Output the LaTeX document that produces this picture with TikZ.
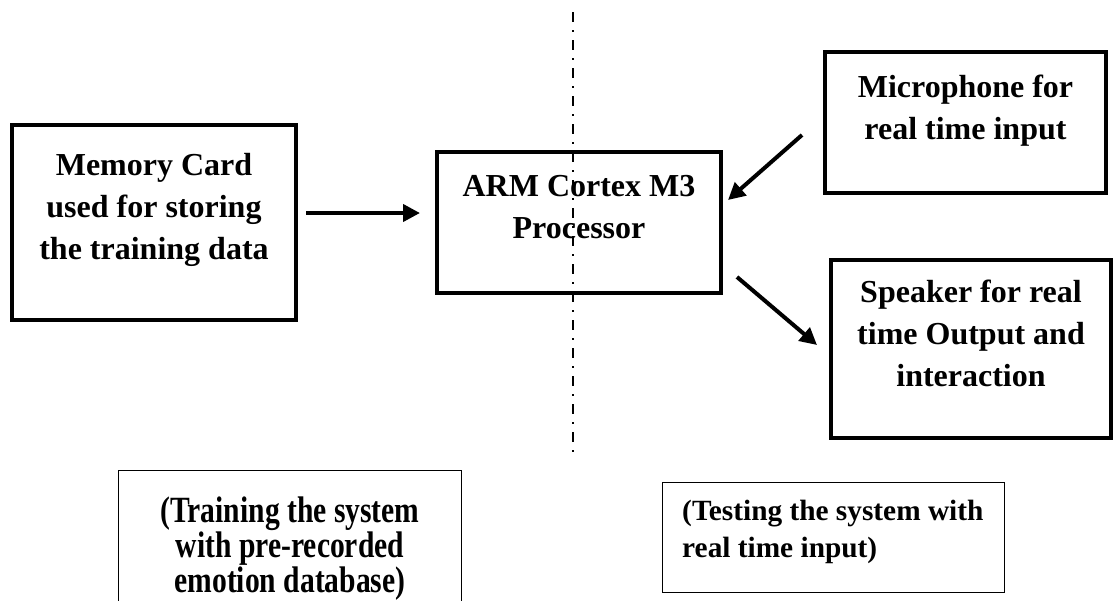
\documentclass[tikz,border=0pt]{standalone}
\usepackage{fontspec}
\setmainfont{Liberation Serif}
\newfontfamily\condfont[FakeStretch=0.8]{Liberation Serif}
\usetikzlibrary{arrows.meta,calc}

\begin{document}
\begin{tikzpicture}[x=0.75pt,y=-0.75pt,
  heavybox/.style={draw, line width=3pt, inner sep=0pt, outer sep=0pt, fill=white},
  thinbox/.style={draw, line width=0.8pt, inner sep=0pt, outer sep=0pt},
  bigtxt/.style={inner sep=0pt, align=center, font=\fontsize{24}{31.5}\selectfont\bfseries},
  condtxt/.style={inner sep=0pt, align=center, font=\condfont\fontsize{27.75}{26.25}\selectfont\bfseries},
  testtxt/.style={inner sep=0pt, align=left, font=\fontsize{22}{27.75}\selectfont\bfseries},
  flowarrow/.style={line width=3pt, -{Triangle[length=12.75pt,width=12.75pt]}},
  divider/.style={line width=1.5pt, dash pattern=on 7.5pt off 6pt on 1.5pt off 6pt}
]
\path[use as bounding box, clip] (0,0) rectangle (1114,600);

\node[heavybox, minimum width=213pt, minimum height=146.25pt,
  label={[bigtxt, anchor=north, yshift=-21pt]north:{Memory Card\\used for storing\\the training data}}]
  (mem) at (154,222.5) {};

\node[heavybox, minimum width=213pt, minimum height=105.75pt,
  label={[bigtxt, anchor=north, yshift=-17.5pt]north:{ARM Cortex M3\\Processor}}]
  (arm) at (579,222.5) {};

\node[heavybox, minimum width=210.75pt, minimum height=105.75pt,
  label={[bigtxt, anchor=north, yshift=-17.25pt]north:{Microphone for\\real time input}}]
  (mic) at (965.5,122.5) {};

\node[heavybox, minimum width=210pt, minimum height=133.5pt,
  label={[bigtxt, anchor=north, yshift=-15pt]north:{Speaker for real\\time Output and\\interaction}}]
  (spk) at (971,349) {};

\node[thinbox, minimum width=257.25pt, minimum height=134.25pt,
  label={[condtxt, anchor=north, yshift=-19.9pt]north:{(Training the system\\with pre-recorded\\emotion database)}}]
  (train) at (290,560) {};

\node[thinbox, minimum width=256.5pt, minimum height=82.5pt,
  label={[testtxt, anchor=north west, xshift=14.6pt, yshift=-12.75pt]north west:{(Testing the system with\\real time input)}}]
  (test) at (833.5,537.5) {};

\draw[flowarrow] ($(mem.east)+(10,-9.5)$) -- ($(arm.west)+(-17,-9.5)$);
\draw[flowarrow] ($(mic.south west)+(-23,-58)$) -- ($(arm.east)+(7,-22.5)$);
\draw[flowarrow] ($(arm.south east)+(16,-16)$) -- ($(spk.west)+(-14,-4)$);

\coordinate (dtop) at (573,12);
\coordinate (dbot) at (573,452);
\draw[divider] (dtop) -- (dbot);
\end{tikzpicture}
\end{document}
